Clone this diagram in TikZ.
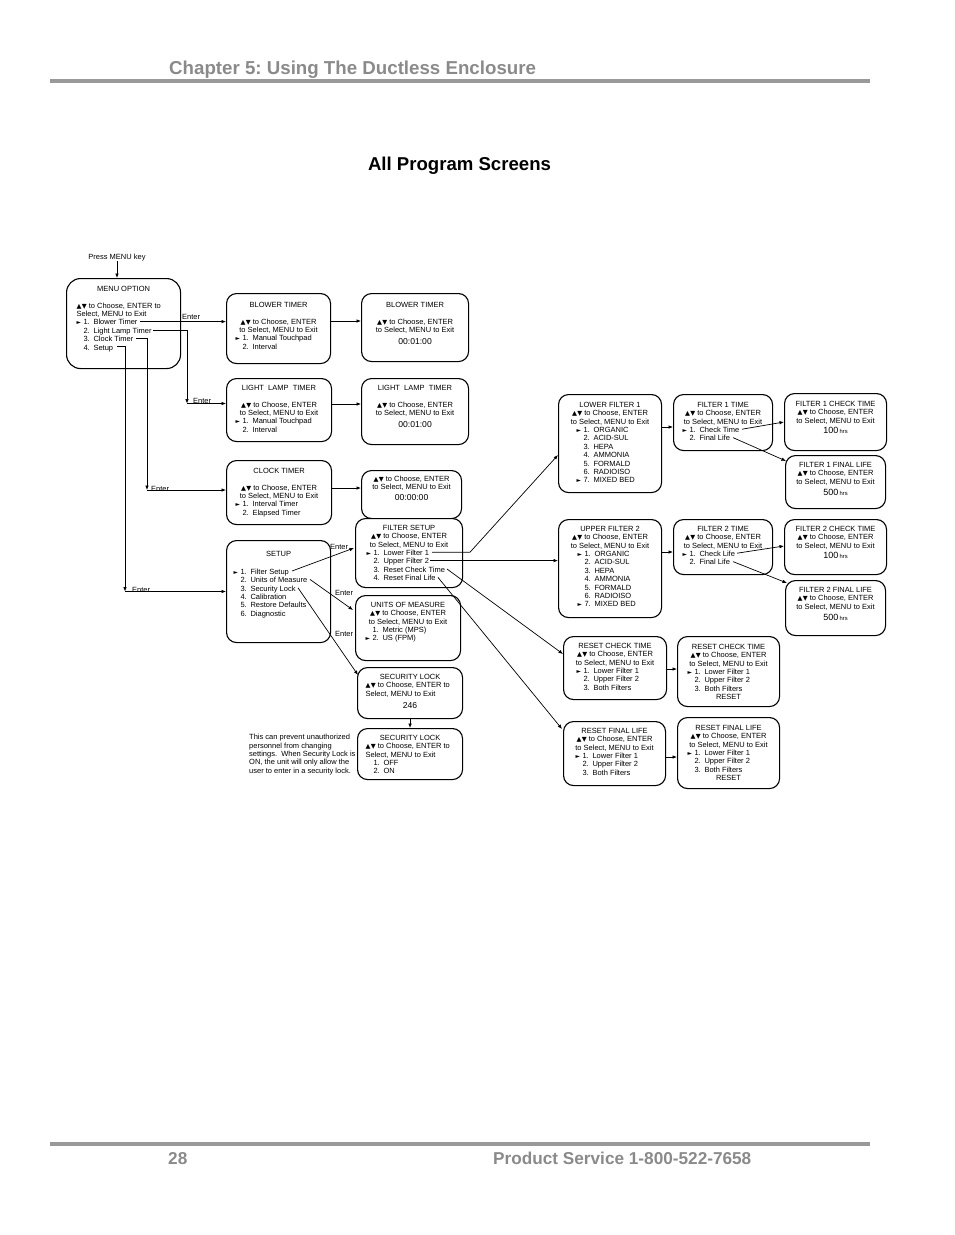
\documentclass[tikz,border=0pt]{standalone}
\usepackage{fontspec}
\setmainfont{Liberation Sans}
\newfontfamily\symf{DejaVu Sans}
\usetikzlibrary{arrows.meta,calc}
\definecolor{hdrgray}{HTML}{8A8A8A}
\definecolor{rulegray}{HTML}{999999}
\newlength\itmoff
\frenchspacing
\newcommand{\scrfont}{\fontsize{7.5}{8.4}\selectfont\lineskiplimit=-20pt\lineskip=0pt\relax}
\newcommand{\tUp}{{\symf\fontsize{6.4}{5}\selectfont ▲}}
\newcommand{\tDn}{{\symf\fontsize{6.4}{5}\selectfont ▼}}
\newcommand{\tRt}{{\symf\fontsize{5.8}{5}\selectfont ►}}
\newcommand{\ud}{\tUp\kern0.3pt\tDn\ }
\newcommand{\lline}[2]{\makebox[\linewidth][l]{\hspace*{#1pt}#2}}
\newcommand{\itm}[3]{\makebox[\linewidth][l]{\hspace*{\itmoff}\makebox[7pt][l]{#1}\makebox[10pt][l]{#2}#3}}
\newcommand{\bignum}[1]{{\fontsize{8.6}{8.4}\selectfont #1}}
\newcommand{\hrsnum}[1]{{\fontsize{9}{8.4}\selectfont #1}\,{\fontsize{5.8}{8.4}\selectfont hrs}}
\newcommand{\mkscr}[9][]{\node[screen,anchor=north west,#1] (#2) at (#3,#4) {\parbox[t][#6pt][t]{#5pt}{\setlength\linewidth{\hsize}\scrfont\centering\setlength\itmoff{#8pt}\rule{0pt}{#7pt}#9}};}
\tikzset{
  screen/.style={draw=black, line width=1.1pt, rounded corners=10pt, inner sep=0pt, fill=white},
  conn/.style={line width=0.7pt, draw=black},
  arr/.style={conn, -{Latex[length=4.5pt,width=3.6pt]}},
  lbl/.style={font=\scrfont, inner sep=0pt, anchor=base west},
  hdr/.style={font=\fontsize{18.7}{20}\selectfont\bfseries, text=hdrgray, inner sep=0pt, anchor=base west},
  ftr/.style={font=\fontsize{17.2}{20}\selectfont\bfseries, text=hdrgray, inner sep=0pt, anchor=base west},
  pagerule/.style={draw=rulegray, line width=3.5pt}
}
\begin{document}
\begin{tikzpicture}[x=1pt,y=-1pt]
\useasboundingbox (0,0) rectangle (954,1235);
% page header and footer
\node[hdr] (chap) at (169,74) {Chapter 5: Using The Ductless Enclosure};
\coordinate (hrL) at (50,81); \coordinate (hrR) at (870,81);
\draw[pagerule] (hrL) -- (hrR);
\node[font=\fontsize{18.6}{20}\selectfont\bfseries, inner sep=0pt, anchor=base] (ttl) at (459.5,170) {All Program Screens};
\coordinate (frL) at (50,1144); \coordinate (frR) at (870,1144);
\draw[pagerule] (frL) -- (frR);
\node[ftr] (pg) at (168,1164) {28};
\node[ftr] (svc) at (493,1164) {Product Service 1-800-522-7658};

% screens
\mkscr[rounded corners=14pt]{menu}{66}{278}{114}{90}{12.7}{10}{MENU OPTION\\[8.4pt]
\lline{10}{\ud to Choose, ENTER to}\\
\lline{10}{Select, MENU to Exit}\\
\itm{\tRt}{1.}{Blower Timer}\\
\itm{}{2.}{Light Lamp Timer}\\
\itm{}{3.}{Clock Timer}\\
\itm{}{4.}{Setup}}

\mkscr{bt1}{226}{293}{104}{70}{13.7}{9}{BLOWER TIMER\\[8.4pt]
\ud to Choose, ENTER\\
to Select, MENU to Exit\\
\itm{\tRt}{1.}{Manual Touchpad}\\
\itm{}{2.}{Interval}}

\mkscr{bt2}{361}{293}{107}{68}{13.7}{0}{BLOWER TIMER\\[8.4pt]
\ud to Choose, ENTER\\
to Select, MENU to Exit\\[3.6pt]
\bignum{00:01:00}}

\mkscr{ll1}{226}{378}{105}{63}{11.7}{9}{LIGHT\ \ LAMP\ \ TIMER\\[8.4pt]
\ud to Choose, ENTER\\
to Select, MENU to Exit\\
\itm{\tRt}{1.}{Manual Touchpad}\\
\itm{}{2.}{Interval}}

\mkscr{ll2}{361}{378}{107}{66}{11.7}{0}{LIGHT\ \ LAMP\ \ TIMER\\[8.4pt]
\ud to Choose, ENTER\\
to Select, MENU to Exit\\[3.6pt]
\bignum{00:01:00}}

\mkscr{ct1}{226}{460}{105}{64}{12.7}{9}{CLOCK TIMER\\[8.4pt]
\ud to Choose, ENTER\\
to Select, MENU to Exit\\
\itm{\tRt}{1.}{Interval Timer}\\
\itm{}{2.}{Elapsed Timer}}

\mkscr{ct2}{361}{470}{100}{48}{10.7}{0}{\ud to Choose, ENTER\\
to Select, MENU to Exit\\[2.6pt]
\bignum{00:00:00}}

\mkscr{su}{226}{540}{104}{102}{15.7}{7}{SETUP\\[9.6pt]
\itm{\tRt}{1.}{Filter Setup}\\
\itm{}{2.}{Units of Measure}\\
\itm{}{3.}{Security Lock}\\
\itm{}{4.}{Calibration}\\
\itm{}{5.}{Restore Defaults}\\
\itm{}{6.}{Diagnostic}}

\mkscr{fs}{355}{518}{107}{69}{11.7}{11}{FILTER SETUP\\
\ud to Choose, ENTER\\
to Select, MENU to Exit\\
\itm{\tRt}{1.}{Lower Filter 1}\\
\itm{}{2.}{Upper Filter 2}\\
\itm{}{3.}{Reset Check Time}\\
\itm{}{4.}{Reset Final Life}}

\mkscr{um}{355}{595}{105}{65}{11.7}{10}{UNITS OF MEASURE\\
\ud to Choose, ENTER\\
to Select, MENU to Exit\\
\itm{}{1.}{Metric (MPS)}\\
\itm{\tRt}{2.}{US (FPM)}}

\mkscr{sl1}{357}{667}{105}{51}{11.7}{0}{SECURITY LOCK\\
\lline{8}{\ud to Choose, ENTER to}\\
\lline{8}{Select, MENU to Exit}\\[3.6pt]
\bignum{246}}

\mkscr{sl2}{357}{728}{105}{51}{11.7}{9}{SECURITY LOCK\\
\lline{8}{\ud to Choose, ENTER to}\\
\lline{8}{Select, MENU to Exit}\\
\itm{}{1.}{OFF}\\
\itm{}{2.}{ON}}

\mkscr{lf1}{558}{394}{103}{98}{12.7}{18}{LOWER FILTER 1\\
\ud to Choose, ENTER\\
to Select, MENU to Exit\\
\itm{\tRt}{1.}{ORGANIC}\\
\itm{}{2.}{ACID-SUL}\\
\itm{}{3.}{HEPA}\\
\itm{}{4.}{AMMONIA}\\
\itm{}{5.}{FORMALD}\\
\itm{}{6.}{RADIOISO}\\
\itm{\tRt}{7.}{MIXED BED}}

\mkscr{f1t}{673}{394}{99}{56}{12.7}{9}{FILTER 1 TIME\\
\ud to Choose, ENTER\\
to Select, MENU to Exit\\
\itm{\tRt}{1.}{Check Time}\\
\itm{}{2.}{Final Life}}

\mkscr{f1ct}{784}{393}{102}{57}{12.7}{0}{FILTER 1 CHECK TIME\\
\ud to Choose, ENTER\\
to Select, MENU to Exit\\[1.6pt]
\hrsnum{100}}

\mkscr{f1fl}{785}{455}{100}{53}{11.7}{0}{FILTER 1 FINAL LIFE\\
\ud to Choose, ENTER\\
to Select, MENU to Exit\\[2.6pt]
\hrsnum{500}}

\mkscr{uf2}{558}{519}{103}{98}{11.7}{19}{UPPER FILTER 2\\
\ud to Choose, ENTER\\
to Select, MENU to Exit\\
\itm{\tRt}{1.}{ORGANIC}\\
\itm{}{2.}{ACID-SUL}\\
\itm{}{3.}{HEPA}\\
\itm{}{4.}{AMMONIA}\\
\itm{}{5.}{FORMALD}\\
\itm{}{6.}{RADIOISO}\\
\itm{\tRt}{7.}{MIXED BED}}

\mkscr{f2t}{673}{519}{99}{55}{11.7}{9}{FILTER 2 TIME\\
\ud to Choose, ENTER\\
to Select, MENU to Exit\\
\itm{\tRt}{1.}{Check Life}\\
\itm{}{2.}{Final Life}}

\mkscr{f2ct}{784}{519}{102}{55}{11.7}{0}{FILTER 2 CHECK TIME\\
\ud to Choose, ENTER\\
to Select, MENU to Exit\\[1.6pt]
\hrsnum{100}}

\mkscr{f2fl}{785}{580}{100}{55}{11.7}{0}{FILTER 2 FINAL LIFE\\
\ud to Choose, ENTER\\
to Select, MENU to Exit\\[2.6pt]
\hrsnum{500}}

\mkscr{rct1}{563}{636}{103}{63}{11.7}{13}{RESET CHECK TIME\\
\ud to Choose, ENTER\\
to Select, MENU to Exit\\
\itm{\tRt}{1.}{Lower Filter 1}\\
\itm{}{2.}{Upper Filter 2}\\
\itm{}{3.}{Both Filters}}

\mkscr{rct2}{677}{636}{102}{70}{12.7}{10}{RESET CHECK TIME\\
\ud to Choose, ENTER\\
to Select, MENU to Exit\\
\itm{\tRt}{1.}{Lower Filter 1}\\
\itm{}{2.}{Upper Filter 2}\\
\itm{}{3.}{Both Filters}\\
RESET}

\mkscr{rfl1}{563}{721}{102}{64}{11.7}{12}{RESET FINAL LIFE\\
\ud to Choose, ENTER\\
to Select, MENU to Exit\\
\itm{\tRt}{1.}{Lower Filter 1}\\
\itm{}{2.}{Upper Filter 2}\\
\itm{}{3.}{Both Filters}}

\mkscr{rfl2}{677}{717}{102}{71}{12.7}{10}{RESET FINAL LIFE\\
\ud to Choose, ENTER\\
to Select, MENU to Exit\\
\itm{\tRt}{1.}{Lower Filter 1}\\
\itm{}{2.}{Upper Filter 2}\\
\itm{}{3.}{Both Filters}\\
RESET}

% free texts
\node[lbl, anchor=base] (press) at (117,259.5) {Press MENU key};
\node[font=\scrfont, inner sep=0pt, anchor=north west, align=left] (note) at (249,734) {This can prevent unauthorized\\personnel from changing\\settings.\ \ When Security Lock is\\ON, the unit will only allow the\\user to enter in a security lock.};

% connectors from MENU OPTION
\draw[arr] (press.south) -- (press.south |- menu.north);
\coordinate (mBlow) at (140,321.6);
\draw[arr] (mBlow) -- (mBlow -| bt1.west);
\node[lbl] (eBlow) at (182,319.5) {Enter};
\coordinate (mLL) at (153,330);
\coordinate (cLL) at (187,403.5);
\draw[arr] (mLL) -| (cLL);
\draw[arr] (cLL) -- (cLL -| ll1.west);
\node[lbl] (eLL) at (193,403) {Enter};
\coordinate (mCT) at (136,338.4);
\coordinate (cCT) at (147,490);
\draw[arr] (mCT) -| (cCT);
\draw[arr] (cCT) -- (cCT -| ct1.west);
\node[lbl] (eCT) at (151,491.5) {Enter};
\coordinate (mSU) at (117,346.8);
\coordinate (cSU) at (125,591.5);
\draw[arr] (mSU) -| (cSU);
\draw[arr] (cSU) -- (cSU -| su.west);
\node[lbl] (eSU) at (132,592.5) {Enter};

% timer chains
\draw[arr] ($(bt1.north east)+(0,28)$) -- ($(bt2.north west)+(0,28)$);
\draw[arr] ($(ll1.north east)+(0,26)$) -- ($(ll2.north west)+(0,26)$);
\draw[arr] ($(ct1.north east)+(0,28)$) -- ($(ct2.north west)+(0,18)$);

% setup branches
\coordinate (sFS) at (292,571);
\draw[arr] (sFS) -- ($(fs.north west)+(-1,30)$);
\node[lbl] (eFS) at (330,549.5) {Enter};
\coordinate (sUM) at (310,579.4);
\draw[arr] (sUM) -- ($(um.north west)+(-2,15)$);
\node[lbl] (eUM) at (335,595.5) {Enter};
\coordinate (sSL) at (298,587.8);
\draw[arr] (sSL) -- ($(sl1.north west)+(1,8)$);
\node[lbl] (eSL) at (335,636) {Enter};
\draw[arr] (sl1.south) -- (sl2.north);

% filter setup branches
\coordinate (fLF) at (432,552.2);
\coordinate (kLF) at (470,552.2);
\draw[arr] (fLF) -- (kLF) -- ($(lf1.north west)+(0,61)$);
\coordinate (fUF) at (430,560.6);
\draw[arr] (fUF) -- (fUF -| uf2.west);
\coordinate (fRC) at (447,569);
\draw[arr] (fRC) -- ($(rct1.north west)+(0,18)$);
\coordinate (fRF) at (438,577.4);
\draw[arr] (fRF) -- ($(rfl1.north west)+(-1,8)$);

% filter chains
\draw[arr] ($(lf1.north east)+(0,33)$) -- ($(f1t.north west)+(0,33)$);
\coordinate (tC1) at (742,429.2);
\draw[arr] (tC1) -- ($(f1ct.north west)+(0,29)$);
\coordinate (tF1) at (733,437.6);
\draw[arr] (tF1) -- ($(f1fl.north west)+(1,6)$);
\draw[arr] ($(uf2.north east)+(0,33)$) -- ($(f2t.north west)+(0,33)$);
\coordinate (tC2) at (737,553.2);
\draw[arr] (tC2) -- ($(f2ct.north west)+(0,27)$);
\coordinate (tF2) at (733,561.6);
\draw[arr] (tF2) -- ($(f2fl.north west)+(2,3)$);
\draw[arr] ($(rct1.north east)+(0,33)$) -- ($(rct2.north west)+(0,33)$);
\draw[arr] ($(rfl1.north east)+(0,36)$) -- ($(rfl2.north west)+(0,40)$);
\end{tikzpicture}
\end{document}
